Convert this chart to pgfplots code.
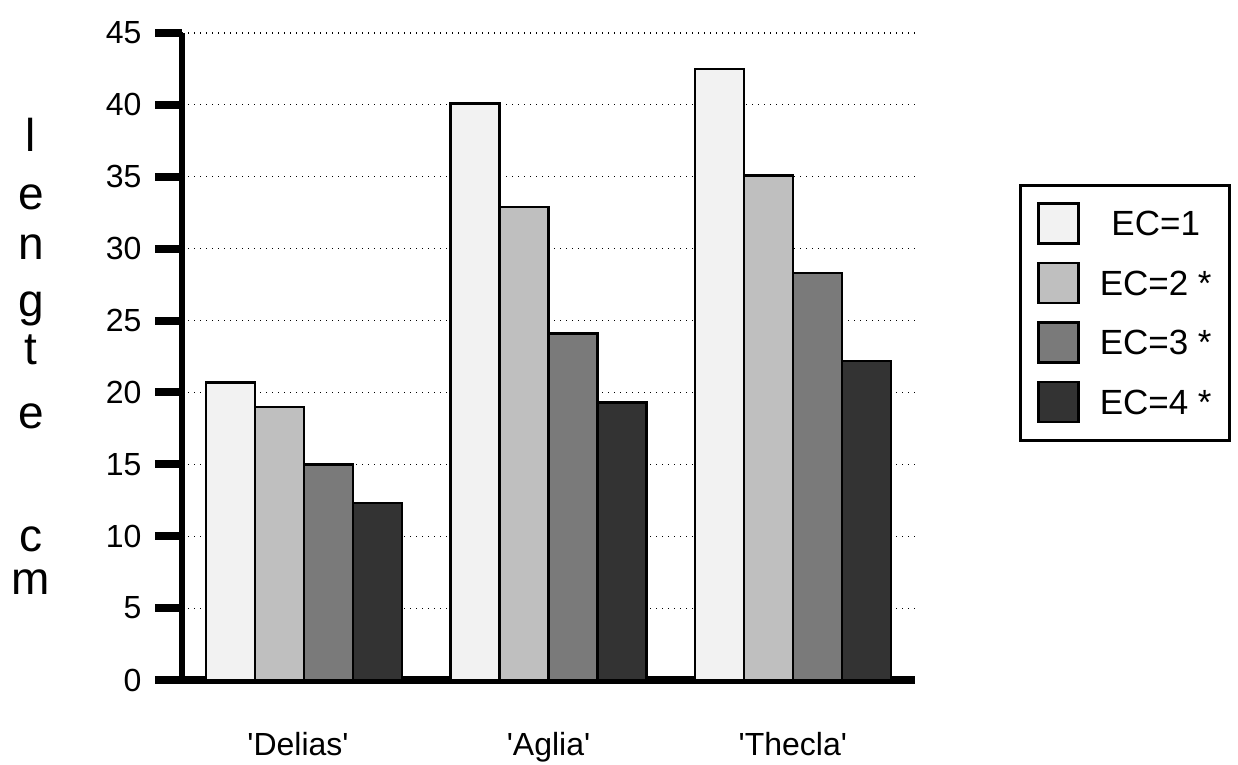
\documentclass[border=0pt]{standalone}
\usepackage{fontspec}
\newfontfamily\helv{Liberation Sans}
\usepackage{pgfplots}
\pgfplotsset{compat=1.18}
\begin{document}
\begin{tikzpicture}[x=1pt,y=1pt]
\path[use as bounding box] (0,0) rectangle (1238,764);
\begin{axis}[
  at={(182pt,84pt)}, anchor=south west,
  scale only axis, width=733pt, height=647pt,
  xmin=-0.5, xmax=2.5, ymin=0, ymax=45,
  ybar=0pt, bar width=49pt,
  axis x line=bottom, axis y line=left,
  x axis line style={-, line width=8pt},
  y axis line style={-, line width=6pt},
  ytick={0,5,...,45},
  xtick={-0.025,1,2},
  xticklabels={\symbol{39}Delias\symbol{39},\symbol{39}Aglia\symbol{39},\symbol{39}Thecla\symbol{39}},
  x tick style={draw=none},
  y tick style={line width=8pt, black},
  major tick length=27pt,
  tick align=outside,
  /pgf/number format/assume math mode=true,
  yticklabel style={font=\helv\fontsize{32}{34}\selectfont, xshift=-10pt},
  xticklabel style={font=\helv\fontsize{32}{34}\selectfont, anchor=base, yshift=-48pt},
  ymajorgrids,
  grid style={black, line width=1.2pt, dash pattern=on 1.2pt off 4.8pt},
  clip=false,
  legend cell align=center,
  legend image code/.code={\draw[#1] (0pt,-19pt) rectangle (40pt,21pt);},
  legend style={at={(rel axis cs:1.1419,0.7666)}, anchor=north west,
    draw=black, line width=2.5pt, font=\helv\fontsize{35}{37}\selectfont,
    inner xsep=17pt, inner ysep=17pt, row sep=17pt,
    nodes={inner sep=1pt},
    /tikz/every odd column/.append style={column sep=19pt}},
]
\addplot[fill=black!5, draw=black, line width=2.5pt] coordinates {(0,20.7) (1,40.1) (2,42.5)};
\addplot[fill=black!25, draw=black, line width=2.5pt] coordinates {(0,19.0) (1,32.9) (2,35.1)};
\addplot[fill=black!52, draw=black, line width=2.5pt] coordinates {(0,15.0) (1,24.1) (2,28.3)};
\addplot[fill=black!80, draw=black, line width=2.5pt] coordinates {(0,12.3) (1,19.3) (2,22.2)};
\legend{EC=1, EC=2 *, EC=3 *, EC=4 *}
\end{axis}
\begin{scope}[every node/.style={anchor=base, font=\helv\fontsize{46}{46}\selectfont, inner sep=0pt}]
\node at (31,612) {l};
\node at (31,554) {e};
\node at (31,504) {n};
\node at (31,447) {g};
\node at (31,400) {t};
\node at (31,336) {e};
\node at (31,213) {c};
\node at (31,170) {m};
\end{scope}
\end{tikzpicture}
\end{document}
